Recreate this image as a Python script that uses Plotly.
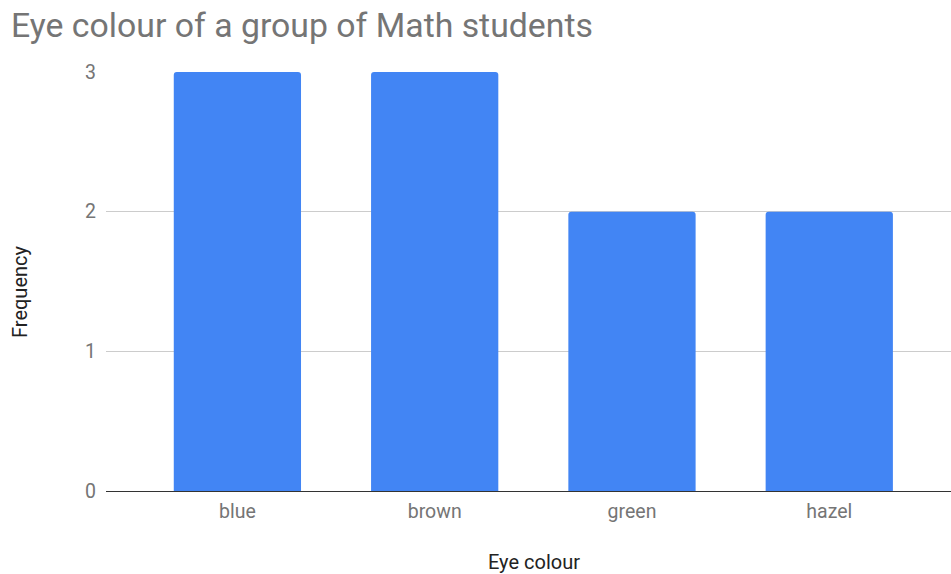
import plotly.graph_objects as go

categories = ["blue", "brown", "green", "hazel"]
frequency = [3, 3, 2, 2]
y_ticks = [0, 1, 2, 3]

W, H = 951, 574
ML, MR, MT, MB = 106, 0, 72, 83

fig = go.Figure(go.Bar(
    x=categories, y=frequency,
    marker=dict(color="#4285f4", cornerradius=3, line=dict(width=0)),
    width=0.645,
    hoverinfo="x+y",
))

fig.update_layout(
    width=W, height=H,
    margin=dict(l=ML, r=MR, t=MT, b=MB),
    paper_bgcolor="white", plot_bgcolor="white",
    font=dict(family="Roboto", color="#757575", size=19.5),
    showlegend=False,
    title=dict(text="Eye colour of a group of Math students",
               font=dict(family="Roboto", size=33.8, color="#757575"),
               x=11 / W, xanchor="left", xref="container",
               y=1 - 25 / H, yanchor="middle", yref="container"),
    xaxis=dict(range=[-0.666, 3.617], showgrid=False, showline=True,
               linecolor="#333333", linewidth=1.2, ticks="",
               tickfont=dict(size=19.5, color="#757575"),
               ticklabelstandoff=2, fixedrange=True),
    yaxis=dict(range=[0, 3], tickvals=y_ticks, showgrid=True,
               gridcolor="#cccccc", gridwidth=1, zeroline=False,
               ticks="", tickfont=dict(size=19.5, color="#757575"),
               ticklabelstandoff=9, fixedrange=True),
    annotations=[
        dict(text="Eye colour", xref="paper", yref="paper",
             x=(534 - ML) / (W - ML - MR), y=-(562 - (H - MB)) / (H - MT - MB),
             xanchor="center", yanchor="middle", showarrow=False,
             font=dict(family="Roboto", size=20, color="#222222")),
        dict(text="Frequency", xref="paper", yref="paper",
             x=-(ML - 20) / (W - ML - MR), y=((H - MB) - 292) / (H - MT - MB),
             xanchor="center", yanchor="middle", showarrow=False, textangle=-90,
             font=dict(family="Roboto", size=20, color="#222222")),
    ],
)

fig.write_html("out.html")
